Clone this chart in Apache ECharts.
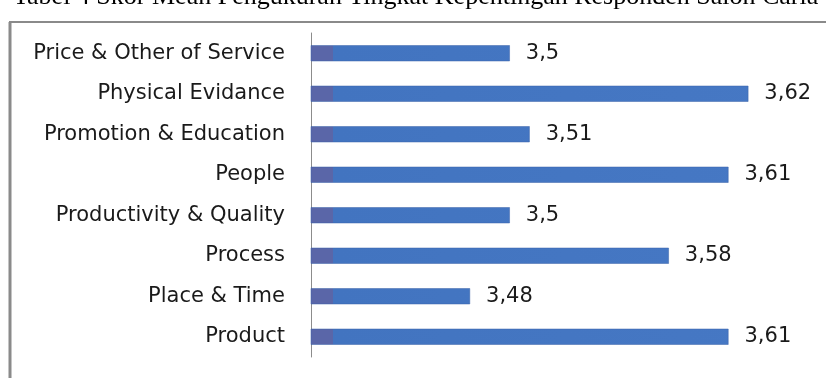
<!DOCTYPE html>
<html>
<head>
<meta charset="utf-8">
<script src="https://cdn.jsdelivr.net/npm/echarts@6/dist/echarts.min.js"></script>
<style>
html,body{margin:0;padding:0;background:#fff;}
#c{width:826px;height:378px;}
</style>
</head>
<body>
<div id="c"></div>
<script>
const categories = ["Price & Other of Service","Physical Evidance","Promotion & Education","People","Productivity & Quality","Process","Place & Time","Product"];
const values = [3.5, 3.62, 3.51, 3.61, 3.5, 3.58, 3.48, 3.61];
const titleText = "Tabel 4 Skor Mean Pengukuran Tingkat Kepentingan Responden Salon Carla";
const axisMin = 3.4;
const axisMax = 3.65;

const chart = echarts.init(document.getElementById('c'), null, {renderer:'canvas'});
chart.setOption({
  backgroundColor:'#fff',
  animation:false,
  title:{text:titleText,left:8,top:-21,textStyle:{fontFamily:'Liberation Serif',fontSize:26,fontWeight:'normal',color:'#000'}},
  graphic:[
    {type:'line',shape:{x1:9,y1:22,x2:826,y2:22},style:{stroke:'#8a8a8a',lineWidth:2}},
    {type:'line',shape:{x1:10,y1:22,x2:10,y2:378},style:{stroke:'#8a8a8a',lineWidth:3}}
  ],
  grid:{left:311,right:18,top:33,bottom:21,containLabel:false},
  xAxis:{type:'value',min:axisMin,max:axisMax,show:false},
  yAxis:{type:'category',data:categories,inverse:true,
    axisLine:{show:true,lineStyle:{color:'#8c8c8c',width:1}},
    axisTick:{show:false},
    axisLabel:{margin:26,fontFamily:'DejaVu Sans',fontSize:21,color:'#1a1a1a'}},
  series:[{
    type:'bar',data:values,barWidth:16,
    itemStyle:{
      color:new echarts.graphic.LinearGradient(311,0,800,0,[
        {offset:0,color:'#5a66a8'},{offset:0.044,color:'#5a66a8'},{offset:0.046,color:'#4274c0'},{offset:1,color:'#4678c4'}],true),
      borderColor:'#3a62a8',borderWidth:0.5
    },
    label:{show:true,position:'right',distance:16,fontFamily:'DejaVu Sans',fontSize:21,color:'#1a1a1a',
      formatter:p=>String(p.value).replace('.',',')}
  }]
});
</script>
</body>
</html>
